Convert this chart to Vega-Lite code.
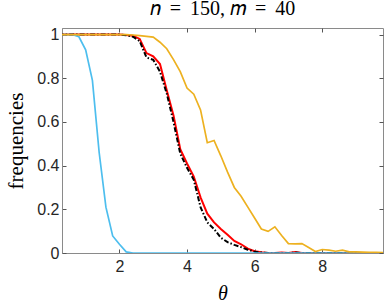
{
  "$schema": "https://vega.github.io/schema/vega-lite/v6.json",
  "width": 321,
  "height": 225,
  "autosize": {"type": "none"},
  "padding": {"left": 62, "top": 28, "right": 2, "bottom": 54},
  "background": "white",
  "title": {"text": "𝑛 \u2009=\u2009 150, 𝑚 \u2009=\u2009 40", "font": "Liberation Serif", "fontSize": 20, "fontWeight": "normal", "color": "#000000", "anchor": "middle", "baseline": "alphabetic", "offset": 11, "dy": 19},
  "data": {"values": [
    {"theta": 0.2, "red": 1, "black": 1, "blue": 1, "orange": 1},
    {"theta": 0.4, "red": 1, "black": 1, "blue": 1, "orange": 1},
    {"theta": 0.6, "red": 1, "black": 1, "blue": 1, "orange": 1},
    {"theta": 0.8, "red": 1, "black": 1, "blue": 0.99, "orange": 1},
    {"theta": 1.0, "red": 1, "black": 1, "blue": 0.93, "orange": 1},
    {"theta": 1.2, "red": 1, "black": 1, "blue": 0.79, "orange": 1},
    {"theta": 1.4, "red": 1, "black": 1, "blue": 0.46, "orange": 1},
    {"theta": 1.6, "red": 1, "black": 1, "blue": 0.21, "orange": 1},
    {"theta": 1.8, "red": 1, "black": 1, "blue": 0.078, "orange": 1},
    {"theta": 2.0, "red": 1, "black": 1, "blue": 0.04, "orange": 1},
    {"theta": 2.2, "red": 0.998, "black": 0.997, "blue": 0.005, "orange": 1},
    {"theta": 2.4, "red": 0.995, "black": 0.99, "blue": 0, "orange": 0.998},
    {"theta": 2.6, "red": 0.98, "black": 0.97, "blue": 0, "orange": 0.995},
    {"theta": 2.8, "red": 0.915, "black": 0.895, "blue": 0, "orange": 0.992},
    {"theta": 3.0, "red": 0.9, "black": 0.884, "blue": 0, "orange": 0.988},
    {"theta": 3.2, "red": 0.865, "black": 0.83, "blue": 0, "orange": 0.965},
    {"theta": 3.4, "red": 0.745, "black": 0.73, "blue": 0, "orange": 0.935},
    {"theta": 3.6, "red": 0.63, "black": 0.6, "blue": 0, "orange": 0.885},
    {"theta": 3.8, "red": 0.475, "black": 0.455, "blue": 0, "orange": 0.83},
    {"theta": 4.0, "red": 0.41, "black": 0.39, "blue": 0, "orange": 0.755},
    {"theta": 4.2, "red": 0.35, "black": 0.335, "blue": 0, "orange": 0.727},
    {"theta": 4.4, "red": 0.255, "black": 0.21, "blue": 0, "orange": 0.655},
    {"theta": 4.6, "red": 0.18, "black": 0.14, "blue": 0, "orange": 0.505},
    {"theta": 4.8, "red": 0.14, "black": 0.11, "blue": 0, "orange": 0.515},
    {"theta": 5.0, "red": 0.11, "black": 0.07, "blue": 0, "orange": 0.445},
    {"theta": 5.2, "red": 0.083, "black": 0.05, "blue": 0, "orange": 0.37},
    {"theta": 5.4, "red": 0.055, "black": 0.037, "blue": 0, "orange": 0.3},
    {"theta": 5.6, "red": 0.04, "black": 0.027, "blue": 0, "orange": 0.26},
    {"theta": 5.8, "red": 0.02, "black": 0.015, "blue": 0, "orange": 0.21},
    {"theta": 6.0, "red": 0.008, "black": 0.006, "blue": 0, "orange": 0.16},
    {"theta": 6.2, "red": 0.003, "black": 0.002, "blue": 0, "orange": 0.11},
    {"theta": 6.4, "red": 0, "black": 0, "blue": 0, "orange": 0.099},
    {"theta": 6.6, "red": 0, "black": 0, "blue": 0, "orange": 0.12},
    {"theta": 6.8, "red": 0.002, "black": 0, "blue": 0, "orange": 0.08},
    {"theta": 7.0, "red": 0, "black": 0, "blue": 0, "orange": 0.043},
    {"theta": 7.2, "red": 0.005, "black": 0.002, "blue": 0, "orange": 0.042},
    {"theta": 7.4, "red": 0, "black": 0, "blue": 0, "orange": 0.043},
    {"theta": 7.6, "red": 0, "black": 0, "blue": 0, "orange": 0.025},
    {"theta": 7.8, "red": 0, "black": 0, "blue": 0, "orange": 0.007},
    {"theta": 8.0, "red": 0, "black": 0, "blue": 0, "orange": 0.016},
    {"theta": 8.2, "red": 0, "black": 0, "blue": 0, "orange": 0.013},
    {"theta": 8.4, "red": 0, "black": 0, "blue": 0, "orange": 0.008},
    {"theta": 8.6, "red": 0, "black": 0, "blue": 0, "orange": 0.013},
    {"theta": 8.8, "red": 0, "black": 0, "blue": 0, "orange": 0.005},
    {"theta": 9.0, "red": 0, "black": 0, "blue": 0, "orange": 0.005},
    {"theta": 9.2, "red": 0, "black": 0, "blue": 0, "orange": 0.004},
    {"theta": 9.4, "red": 0, "black": 0, "blue": 0, "orange": 0.003},
    {"theta": 9.6, "red": 0, "black": 0, "blue": 0, "orange": 0.003},
    {"theta": 9.8, "red": 0, "black": 0, "blue": 0, "orange": 0.002}
  ]},
  "config": {
    "view": {"stroke": "#8a8a8a", "strokeWidth": 1},
    "axis": {"grid": false, "domainColor": "#8a8a8a", "tickColor": "#555555", "tickSize": -4, "labelFont": "Liberation Sans", "labelFontSize": 16, "labelColor": "#262626", "titleFont": "Liberation Serif", "titleFontWeight": "normal", "titleColor": "#000000"}
  },
  "layer": [
    {
      "mark": {"type": "line", "color": "#FF0000", "strokeWidth": 2, "clip": true},
      "encoding": {
        "x": {"field": "theta", "type": "quantitative", "scale": {"domain": [0.3, 9.8], "nice": false, "zero": false}, "axis": {"orient": "bottom", "values": [2, 4, 6, 8], "title": "θ", "titleFontStyle": "italic", "titleFontSize": 20, "labelPadding": 9, "titlePadding": 9}},
        "y": {"field": "red", "type": "quantitative", "scale": {"domain": [0, 1.03], "nice": false}, "axis": {"orient": "left", "values": [0, 0.2, 0.4, 0.6, 0.8, 1], "format": "~g", "title": "frequencies", "titleFontSize": 21, "labelPadding": 7, "titlePadding": 10}}
      }
    },
    {
      "mark": {"type": "line", "color": "#000000", "strokeWidth": 2, "strokeDash": [5, 2, 1.5, 2], "clip": true},
      "encoding": {
        "x": {"field": "theta", "type": "quantitative", "axis": {"orient": "top", "values": [2, 4, 6, 8], "labels": false, "title": null, "domain": false}},
        "y": {"field": "black", "type": "quantitative", "axis": {"orient": "right", "values": [0, 0.2, 0.4, 0.6, 0.8, 1], "labels": false, "title": null, "domain": false}}
      }
    },
    {
      "mark": {"type": "line", "color": "#4DBEEE", "strokeWidth": 1.7, "clip": true},
      "encoding": {
        "x": {"field": "theta", "type": "quantitative", "axis": null},
        "y": {"field": "blue", "type": "quantitative", "axis": null}
      }
    },
    {
      "mark": {"type": "line", "color": "#EDB120", "strokeWidth": 1.7, "clip": true},
      "encoding": {
        "x": {"field": "theta", "type": "quantitative", "axis": null},
        "y": {"field": "orange", "type": "quantitative", "axis": null}
      }
    }
  ],
  "resolve": {"axis": {"x": "independent", "y": "independent"}}
}
